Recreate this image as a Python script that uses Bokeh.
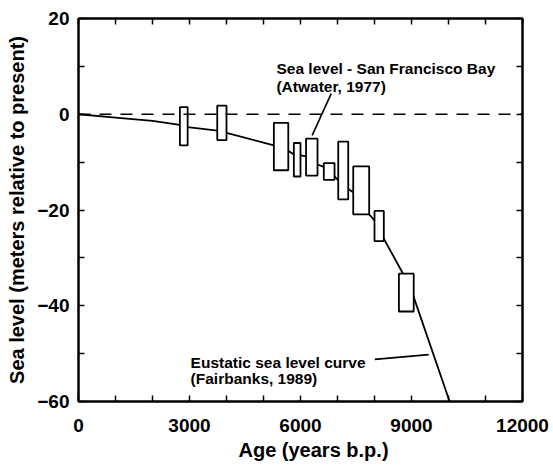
from bokeh.plotting import figure
from bokeh.models import (Range1d, FixedTicker, LinearAxis, Span, Label, Title)
from bokeh.embed import file_html
from bokeh.resources import INLINE

# ---- data ----
# Atwater (1977) San Francisco Bay sea level boxes
box_age_min = [2740, 3750, 5280, 5820, 6150, 6630, 7020, 7425, 8000, 8660]
box_age_max = [2950, 4000, 5670, 6000, 6460, 6920, 7290, 7856, 8252, 9060]
box_top = [1.5, 1.8, -1.8, -6.0, -5.1, -10.2, -5.7, -10.9, -20.2, -33.3]
box_bottom = [-6.5, -5.4, -11.7, -13.0, -12.8, -13.7, -17.8, -20.9, -26.5, -41.2]

# Fairbanks (1989) eustatic sea level curve
curve_age = [0, 1000, 2000, 2740, 2950, 3750, 4000, 5280, 5670, 5820, 6000, 6150,
             6460, 6630, 6920, 7020, 7290, 7425, 7856, 8000, 8252, 8750, 9060, 10030]
curve_level = [0, -0.7, -1.4, -2.2, -2.7, -3.4, -3.9, -6.5, -7.6, -8.4, -8.6, -8.8,
               -10.5, -11.0, -13.0, -13.8, -15.6, -16.3, -20.9, -22.2, -26.0, -33.0, -38.2, -60]

x_major_ticks = [0, 3000, 6000, 9000, 12000]
x_minor_ticks = [1000, 2000, 4000, 5000, 7000, 8000, 10000, 11000]
y_major_ticks = [20, 0, -20, -40, -60]
y_minor_ticks = [10, -10, -30, -50]

# leader lines for annotations (age, level)
leader_x0 = [6830, 8008]
leader_y0 = [4.3, -51.2]
leader_x1 = [6316, 9465]
leader_y1 = [-4.4, -50.2]

FONT = "Liberation Sans"

p = figure(width=553, height=470, output_backend="svg", toolbar_location=None,
           x_range=Range1d(0, 12000), y_range=Range1d(-60, 20),
           min_border_left=78, min_border_right=31, min_border_top=18, min_border_bottom=69,
           x_axis_type=None, y_axis_type=None)
p.grid.visible = False
p.outline_line_color = "black"
p.outline_line_width = 2
p.background_fill_color = "white"
p.border_fill_color = "white"


def style_axis(ax, label_size):
    ax.axis_line_color = "black"
    ax.axis_line_width = 2
    ax.major_tick_line_color = "black"
    ax.minor_tick_line_color = "black"
    ax.major_tick_line_width = 1.5
    ax.minor_tick_line_width = 1.5
    ax.major_tick_in = 6
    ax.major_tick_out = 0
    ax.minor_tick_in = 6
    ax.minor_tick_out = 0
    ax.major_label_text_font = FONT
    ax.major_label_text_font_style = "bold"
    ax.major_label_text_font_size = label_size
    ax.major_label_text_color = "black"


xb = LinearAxis(ticker=FixedTicker(ticks=x_major_ticks, minor_ticks=x_minor_ticks))
style_axis(xb, "19px")
xb.major_label_standoff = 17
p.add_layout(xb, "below")

yl = LinearAxis(ticker=FixedTicker(ticks=y_major_ticks, minor_ticks=y_minor_ticks))
style_axis(yl, "19px")
yl.major_label_standoff = 9
yl.axis_label = "Sea level (meters relative to present)"
yl.axis_label_text_font = FONT
yl.axis_label_text_font_style = "bold"
yl.axis_label_text_font_size = "20px"
yl.axis_label_standoff = 6
yl.axis_label_text_color = "black"
p.add_layout(yl, "left")

xt = LinearAxis(ticker=FixedTicker(ticks=[], minor_ticks=x_major_ticks + x_minor_ticks))
style_axis(xt, "19px")
p.add_layout(xt, "above")

yr = LinearAxis(ticker=FixedTicker(ticks=[], minor_ticks=y_major_ticks + y_minor_ticks))
style_axis(yr, "19px")
p.add_layout(yr, "right")

# x axis title, placed under the axis
p.add_layout(Title(text="Age  (years b.p.)", align="left", offset=160,
                   text_font=FONT, text_font_style="bold", text_font_size="20px",
                   text_color="black", standoff=4), "below")

# present sea level reference
p.add_layout(Span(location=0, dimension="width", line_color="black",
                  line_width=1.6, line_dash="12 9"))

# eustatic curve
p.line(curve_age, curve_level, line_color="black", line_width=1.8)

# Atwater boxes
p.quad(left=box_age_min, right=box_age_max, top=box_top, bottom=box_bottom,
       fill_color="white", line_color="black", line_width=1.8)

# leader lines
p.segment(x0=leader_x0, y0=leader_y0, x1=leader_x1, y1=leader_y1,
          line_color="black", line_width=1.6)

ann = dict(text_font=FONT, text_font_style="bold", text_font_size="15.5px",
           text_color="black", text_baseline="alphabetic", text_align="left")
p.add_layout(Label(x=5350, y=9.5, text="Sea level - San Francisco Bay", **ann))
p.add_layout(Label(x=5350, y=5.8, text="(Atwater, 1977)", **ann))
p.add_layout(Label(x=3030, y=-51.75, text="Eustatic sea level curve", **ann))
p.add_layout(Label(x=3030, y=-55.2, text="(Fairbanks, 1989)", **ann))

open("out.html", "w").write(file_html(p, INLINE))
